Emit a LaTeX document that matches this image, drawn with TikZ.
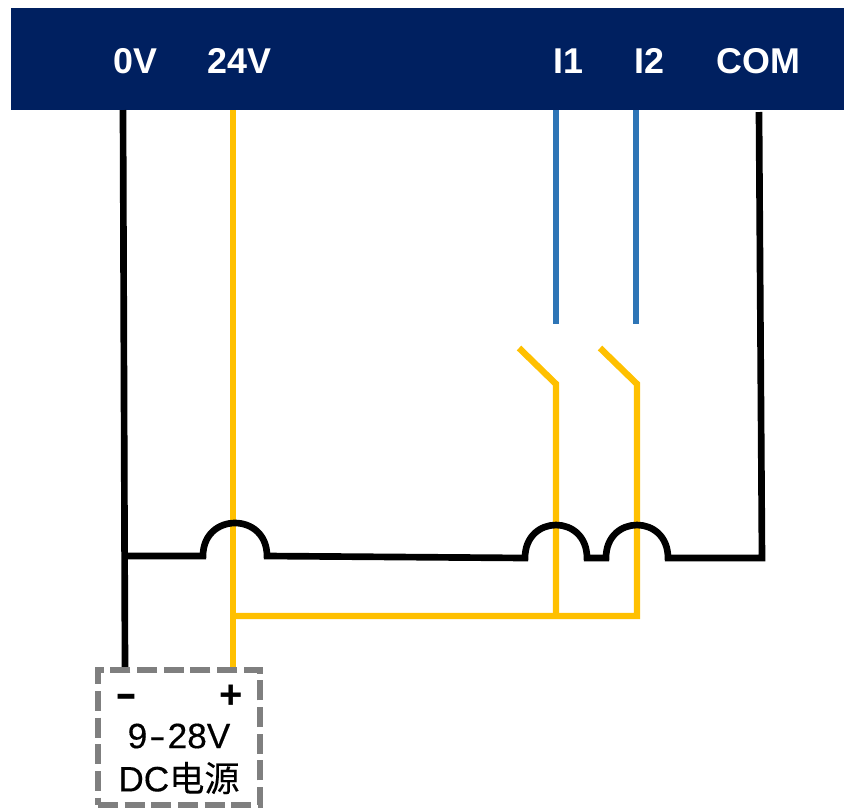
\documentclass[tikz,border=0pt]{standalone}
\usepackage{fontspec}
\setmainfont{Liberation Sans}
\newfontfamily\medfont[FakeBold=0.35]{Liberation Sans}
\newfontfamily\cjkfont[FakeBold=0.25]{Noto Sans CJK SC}
\definecolor{navyhdr}{HTML}{002060}
\definecolor{wireorange}{HTML}{FFC000}
\definecolor{wireblue}{HTML}{2E75B6}
\definecolor{boxgrey}{HTML}{7F7F7F}
\tikzset{
  hdrbox/.style={fill=navyhdr,draw=none,inner sep=0pt,outer sep=0pt,minimum width=833*0.75pt,minimum height=102*0.75pt,anchor=north west},
  term/.style={text=white,font=\fontsize{26.9pt}{30pt}\selectfont\bfseries,inner sep=0pt},
  wireblack/.style={draw=black,line width=5pt,line join=miter},
  wireyellow/.style={draw=wireorange,line width=4.8pt,line join=miter},
  wirebluestyle/.style={draw=wireblue,line width=4.8pt},
  psubox/.style={draw=boxgrey,line width=4.4pt,dash pattern=on 15pt off 5pt,inner sep=0pt,outer sep=0pt,minimum width=162*0.75pt,minimum height=135*0.75pt,anchor=north west},
  psutext/.style={text=black,font=\fontsize{26.4pt}{30pt}\medfont,inner sep=0pt},
}
\begin{document}
\begin{tikzpicture}[x=0.75pt,y=-0.75pt]
\useasboundingbox (0,0) rectangle (844,808);
\node[hdrbox] (hdr) at (11,8) {};
\node[term] (t0) at (135.5,61) {0V};
\node[term] (t24) at (239.5,61) {24V};
\node[term] (ti1) at (568.5,61) {I1};
\node[term] (ti2) at (649.5,61) {I2};
\node[term] (tcom) at (758.5,61) {COM};
% connection points
\coordinate (a0) at (123,110);
\coordinate (b0) at (125,668);
\coordinate (j0) at (124.5,556);
\coordinate (a24) at (233,110);
\coordinate (b24) at (233,668);
\coordinate (j24) at (233,616);
\coordinate (ai1) at (556,110);
\coordinate (ei1) at (556,324);
\coordinate (ai2) at (636,110);
\coordinate (ei2) at (636,324);
\coordinate (si1) at (519,348);
\coordinate (ki1) at (556,384);
\coordinate (ji1) at (556,616);
\coordinate (si2) at (600,348);
\coordinate (ki2) at (637,384);
\coordinate (ji2) at (637,616);
\coordinate (acom) at (759,112);
\coordinate (ccom) at (762,558);
% orange
\draw[wireyellow] (a24) -- (b24);
\draw[wireyellow] (j24) -- (ji2) -- (ki2) -- (si2);
\draw[wireyellow] (ji1) -- (ki1) -- (si1);
% blue
\draw[wirebluestyle] (ai1) -- (ei1);
\draw[wirebluestyle] (ai2) -- (ei2);
% black
\draw[wireblack] (a0) -- (b0);
\draw[wireblack] (j0) -- (203,556)
  .. controls (203,512) and (267,512) .. (267,556)
  -- (525,558)
  .. controls (525,514) and (587,514) .. (587,558)
  -- (606,558)
  .. controls (606,514) and (668,514) .. (668,558)
  -- (ccom) -- (acom);
% supply
\node[psubox] (psu) at (98,670) {};
\node[psutext,font=\fontsize{31pt}{30pt}\selectfont\bfseries,xscale=1.6] (minus) at (127,701) {-};
\node[psutext,font=\fontsize{30pt}{30pt}\selectfont\bfseries] (plus) at (231,697) {+};
\node[psutext] (volt) at (179,736) {9\kern1.5pt\scalebox{1.4}[1]{-}\kern1.5pt28V};
\node[psutext] (dc) at (179,778) {DC{\cjkfont 电源}};
\end{tikzpicture}
\end{document}
